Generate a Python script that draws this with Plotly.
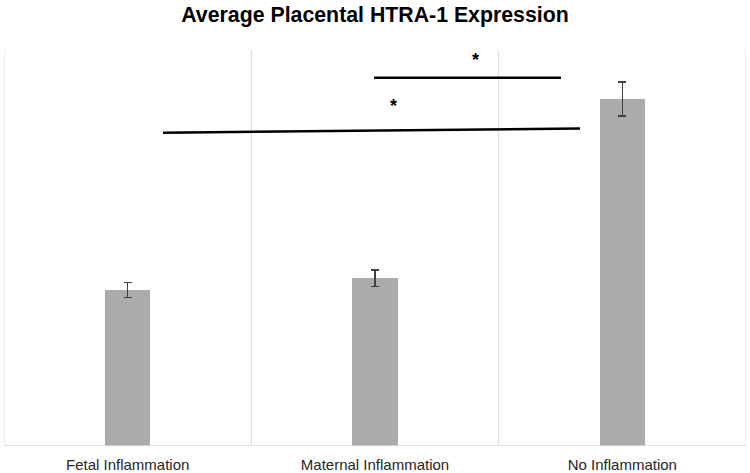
import plotly.graph_objects as go

categories = ["Fetal Inflammation", "Maternal Inflammation", "No Inflammation"]
means = [0.394, 0.424, 0.876]
errors = [0.019, 0.021, 0.043]

# significance brackets: (x0, y0, x1, y1, star_x, star_y)
sig_lines = [
    (0.996, 0.930, 1.752, 0.930, 1.405, 0.975),
    (0.143, 0.791, 1.829, 0.802, 1.073, 0.859),
]

xpos = list(range(len(categories)))

fig = go.Figure()
fig.add_trace(go.Bar(
    x=xpos, y=means, width=0.182,
    marker=dict(color="#ababab", line=dict(width=0)),
    error_y=dict(type="data", array=errors, visible=True,
                 color="#404040", thickness=1.5, width=4),
    showlegend=False,
))

shapes = []
for b in [-0.5, 0.5, 1.5, 2.5]:
    shapes.append(dict(type="line", xref="x", yref="paper", x0=b, x1=b, y0=0, y1=1,
                       line=dict(color="#d9d9d9", width=1), layer="below"))
shapes.append(dict(type="line", xref="paper", yref="y", x0=0, x1=1, y0=0, y1=0,
                   line=dict(color="#d9d9d9", width=1.5)))
annotations = []
for x0, y0, x1, y1, sx, sy in sig_lines:
    shapes.append(dict(type="line", xref="x", yref="y", x0=x0, y0=y0, x1=x1, y1=y1,
                       line=dict(color="black", width=2.5)))
    annotations.append(dict(x=sx, y=sy, xref="x", yref="y", text="<b>*</b>",
                            showarrow=False, font=dict(size=18, color="black",
                                                       family="Liberation Sans, Arial")))

fig.update_layout(
    width=750, height=473,
    margin=dict(l=4, r=4, t=50, b=27, autoexpand=False),
    paper_bgcolor="white", plot_bgcolor="white",
    title=dict(text="<b>Average Placental HTRA-1 Expression</b>", x=0.5, xanchor="center",
               y=1 - 15 / 473, yanchor="middle",
               font=dict(size=21.3, color="black", family="Liberation Sans, Arial")),
    xaxis=dict(range=[-0.5, 2.5], tickvals=xpos, ticktext=categories, showgrid=False,
               zeroline=False, showline=False, ticks="outside", ticklen=5,
               tickcolor="rgba(0,0,0,0)", automargin=False,
               tickfont=dict(size=15, color="#262626", family="Liberation Sans, Arial")),
    yaxis=dict(range=[0, 1], showgrid=False, zeroline=False, showticklabels=False,
               showline=False, ticks="", automargin=False),
    shapes=shapes, annotations=annotations,
    bargap=0,
)

fig.write_html("out.html", config={"displayModeBar": False},
               post_script="document.body.style.margin='0';")
